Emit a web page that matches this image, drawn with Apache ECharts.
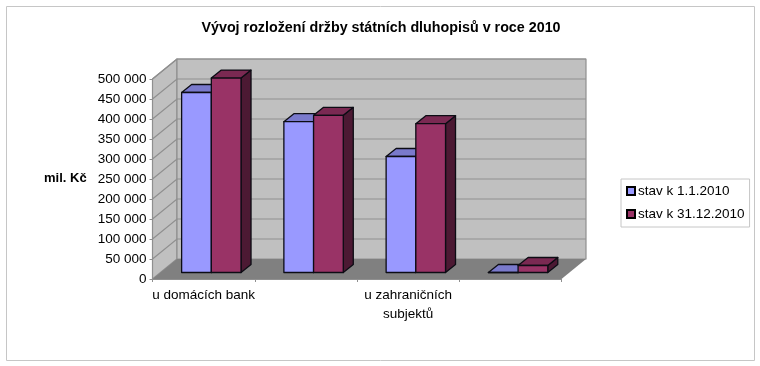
<!DOCTYPE html>
<html>
<head>
<meta charset="utf-8">
<title>Vývoj rozložení držby státních dluhopisů</title>
<script src="https://cdn.jsdelivr.net/npm/echarts@6/dist/echarts.min.js"></script>
<style>
    html, body { margin: 0; padding: 0; background: #fff; }
    #chart { width: 760px; height: 366px; }
</style>
</head>
<body>
<div id="chart"></div>
<script>
var categories = ['u domácích bank', '', 'u zahraničních\nsubjektů', ''];
var stav2010Start = [450000, 377000, 290000, 0];
var stav2010End = [486000, 393000, 372000, 17500];
var wallTicks = [50000, 100000, 150000, 200000, 250000, 300000, 350000, 400000, 450000, 500000];
var seriesNames = ['stav k 1.1.2010', 'stav k 31.12.2010'];

var FONT = '"Liberation Sans", Arial, sans-serif';
var GRID_LEFT = 152.5, GRID_TOP = 79, GRID_WIDTH = 409, GRID_HEIGHT = 200;
var WALL_DX = 24.5, WALL_DY = 20;   // depth of the whole 3d box
var BAR_DX = 10, BAR_DY = 8;        // depth of one bar
var BAR_SHIFT_X = 7.7, BAR_SHIFT_Y = 6.5;  // bars stand a bit in from the front edge
var BAR_W = 29.7;
var LINE = '#8f8f8f';

function poly(points, fill, stroke, width) {
    return {
        type: 'polygon',
        shape: { points: points },
        style: { fill: fill, stroke: stroke || null, lineWidth: width || 0, lineJoin: 'round' }
    };
}

// walls and floor behind the bars
function renderWalls(params, api) {
    var cs = params.coordSys;
    var l = cs.x, r = cs.x + cs.width, t = cs.y, b = cs.y + cs.height;
    var y = api.coord([0, api.value(1)])[1];
    var children = [];
    if (params.dataIndex == 0) {
        children.push(poly([[l, b], [l + WALL_DX, b - WALL_DY], [l + WALL_DX, t - WALL_DY], [l, t]], '#c0c0c0', LINE, 1.2));
        children.push(poly([[l + WALL_DX, b - WALL_DY], [r + WALL_DX, b - WALL_DY], [r + WALL_DX, t - WALL_DY], [l + WALL_DX, t - WALL_DY]], '#c0c0c0', LINE, 1.2));
        children.push(poly([[l, b], [r, b], [r + WALL_DX, b - WALL_DY], [l + WALL_DX, b - WALL_DY]], '#808080'));
    }
    children.push({
        type: 'polyline',
        shape: { points: [[l, y], [l + WALL_DX, y - WALL_DY], [r + WALL_DX, y - WALL_DY]] },
        style: { fill: null, stroke: LINE, lineWidth: 1.2 }
    });
    return { type: 'group', children: children };
}

function makeBarRenderer(slot, front, top, side) {
    return function (params, api) {
        var cat = api.value(0);
        var p = api.coord([cat, api.value(1)]);
        var p0 = api.coord([cat, 0]);
        var x0 = p[0] + BAR_SHIFT_X + (slot - 1) * BAR_W;
        var x1 = x0 + BAR_W;
        var yt = p[1] - BAR_SHIFT_Y;
        var yb = p0[1] - BAR_SHIFT_Y;
        var border = '#0c0c14';
        return {
            type: 'group',
            children: [
                poly([[x1, yb], [x1 + BAR_DX, yb - BAR_DY], [x1 + BAR_DX, yt - BAR_DY], [x1, yt]], side, border, 1.3),
                poly([[x0, yt], [x0 + BAR_DX, yt - BAR_DY], [x1 + BAR_DX, yt - BAR_DY], [x1, yt]], top, border, 1.3),
                poly([[x0, yb], [x1, yb], [x1, yt], [x0, yt]], front, border, 1.3)
            ]
        };
    };
}

var myChart = echarts.init(document.getElementById('chart'), null, { renderer: 'canvas' });

var option = {
    animation: false,
    backgroundColor: '#ffffff',
    textStyle: { fontFamily: FONT },
    title: {
        text: 'Vývoj rozložení držby státních dluhopisů v roce 2010',
        left: 376,
        top: 16,
        textAlign: 'center',
        textStyle: { fontFamily: FONT, fontSize: 14.3, fontWeight: 'bold', color: '#000' }
    },
    graphic: [
        {
            type: 'rect',
            silent: true,
            z: -10,
            shape: { x: 6.5, y: 6.5, width: 748, height: 354 },
            style: { fill: '#fff', stroke: '#c6c6c6', lineWidth: 1 }
        },
        {
            type: 'text',
            left: 44,
            top: 172,
            style: { text: 'mil. Kč', font: 'bold 13px ' + FONT, fill: '#000' }
        }
    ],
    legend: {
        data: seriesNames,
        orient: 'vertical',
        left: 621,
        top: 179,
        padding: [5, 5, 6, 5],
        itemGap: 9,
        itemWidth: 8,
        itemHeight: 8,
        icon: 'rect',
        borderColor: '#c6c6c6',
        borderWidth: 1,
        textStyle: { fontFamily: FONT, fontSize: 13.5, color: '#000', padding: [0, 0, 0, -2] }
    },
    grid: { left: GRID_LEFT, top: GRID_TOP, width: GRID_WIDTH, height: GRID_HEIGHT },
    xAxis: {
        type: 'category',
        data: categories,
        axisLine: { show: true, lineStyle: { color: LINE } },
        axisTick: { show: true, length: 3, lineStyle: { color: LINE } },
        axisLabel: { interval: 0, margin: 7, color: '#000', fontFamily: FONT, fontSize: 13.5, lineHeight: 19 }
    },
    yAxis: {
        type: 'value',
        min: 0,
        max: 500000,
        interval: 50000,
        splitLine: { show: false },
        axisLine: { show: true, lineStyle: { color: LINE } },
        axisTick: { show: true, length: 3, lineStyle: { color: LINE } },
        axisLabel: {
            margin: 6,
            color: '#000',
            fontFamily: FONT,
            fontSize: 13.5,
            formatter: function (v) {
                return String(v).replace(/\B(?=(\d{3})+$)/g, ' ');
            }
        }
    },
    series: [
        {
            type: 'custom',
            silent: true,
            clip: false,
            renderItem: renderWalls,
            encode: { x: 0, y: 1 },
            data: wallTicks.map(function (v) { return [0, v]; })
        },
        {
            type: 'custom',
            name: seriesNames[0],
            clip: false,
            renderItem: makeBarRenderer(0, '#9999ff', '#7a7acc', '#4c4c80'),
            itemStyle: { color: '#9999ff', borderColor: '#000', borderWidth: 1 },
            encode: { x: 0, y: 1 },
            data: stav2010Start.map(function (v, i) { return [i, v]; })
        },
        {
            type: 'custom',
            name: seriesNames[1],
            clip: false,
            renderItem: makeBarRenderer(1, '#993366', '#7a2952', '#4c1933'),
            itemStyle: { color: '#993366', borderColor: '#000', borderWidth: 1 },
            encode: { x: 0, y: 1 },
            data: stav2010End.map(function (v, i) { return [i, v]; })
        }
    ]
};

if (option && typeof option === 'object') {
    myChart.setOption(option, true);
}
window.addEventListener('resize', myChart.resize);
</script>
</body>
</html>
